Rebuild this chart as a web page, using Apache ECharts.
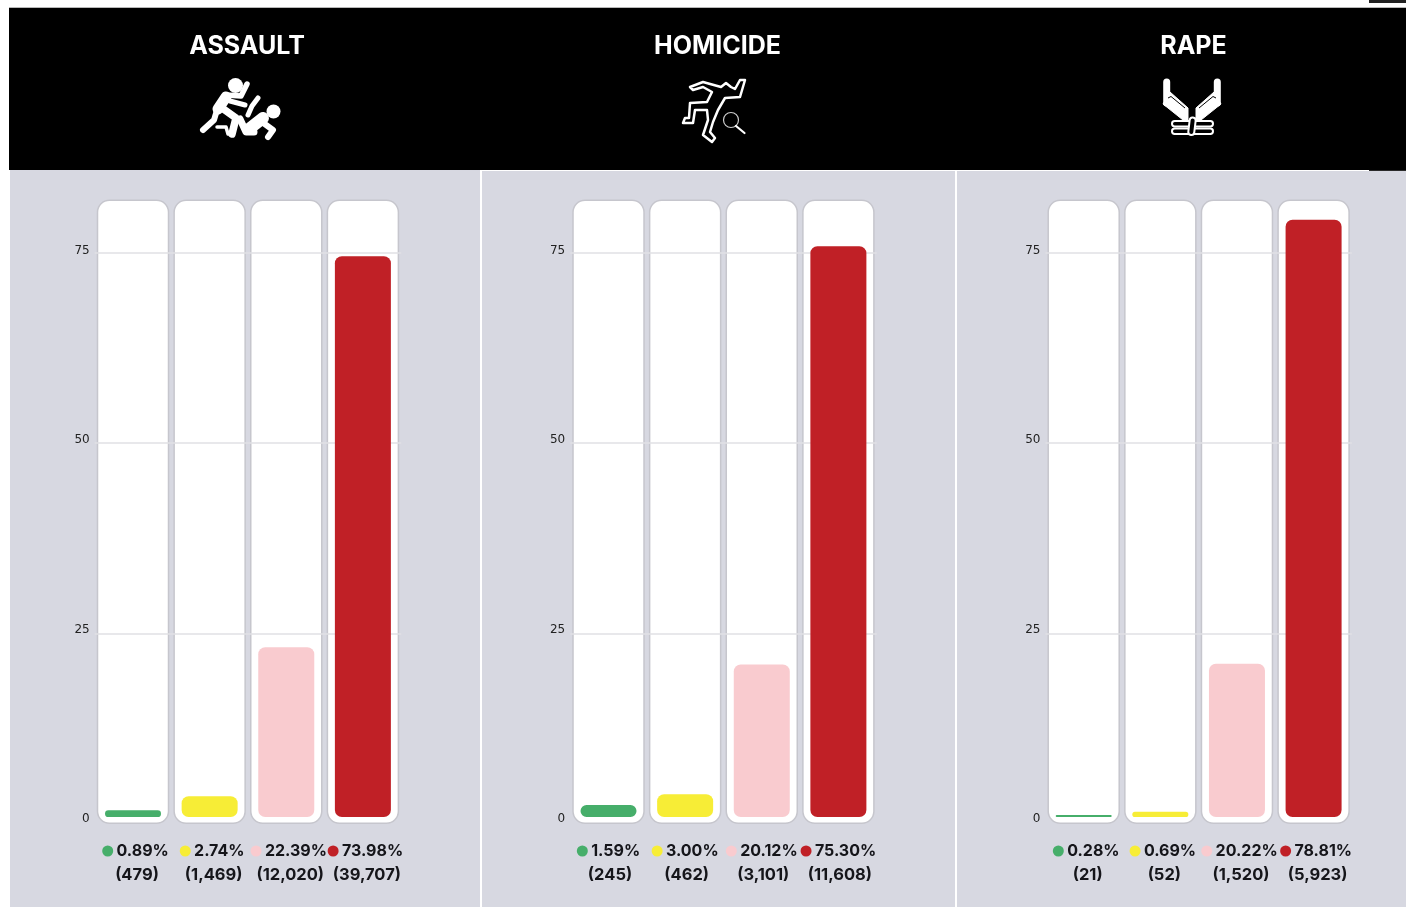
<!DOCTYPE html>
<html>
<head>
<meta charset="utf-8">
<title>Crime shares</title>
<script src="https://cdn.jsdelivr.net/npm/echarts@6/dist/echarts.min.js"></script>
<style>
  html, body { margin: 0; padding: 0; background: #fff; }
  #chart { width: 1406px; height: 907px; }
</style>
</head>
<body>
<div id="chart"></div>
<script>
const crimes = ['ASSAULT', 'HOMICIDE', 'RAPE']
const assaultPct = [0.89, 2.74, 22.39, 73.98]
const homicidePct = [1.59, 3.0, 20.12, 75.3]
const rapePct = [0.28, 0.69, 20.22, 78.81]
const assaultCount = [479, 1469, 12020, 39707]
const homicideCount = [245, 462, 3101, 11608]
const rapeCount = [21, 52, 1520, 5923]
const yTicks = [0, 25, 50, 75]

const pctByCrime = [assaultPct, homicidePct, rapePct]
const countByCrime = [assaultCount, homicideCount, rapeCount]
const colors = ['#46ae6a', '#f7ed36', '#f9cbcf', '#c02026']

const panelBg = '#d7d8e1'
const gridLefts = [94.7, 570.2, 1045.4]
const gridWidth = 306.5
const titleCenters = [242, 712.5, 1188.5]
const labelShift = [5, 0, 5]
const cardTop = 82

const textStyle = { fontFamily: 'Inter', fontWeight: 700, fontSize: 16, color: '#15151a', lineHeight: 24 }
const richStyles = {
  pct: { ...textStyle },
  count: { ...textStyle, fontSize: 16.5, padding: [0, 0, 0, 3] }
}
colors.forEach((c, i) => {
  richStyles['dot' + i] = { width: 11, height: 11, borderRadius: 5.5, backgroundColor: c }
})

const grids = []
const xAxes = []
const yAxes = []
const series = []

crimes.forEach((crime, p) => {
  const pct = pctByCrime[p]
  const count = countByCrime[p]
  const cats = pct.map((v) => v.toFixed(2) + '%')

  // back grid: white cards and the gridlines that sit on them
  const backIdx = grids.length
  grids.push({ left: gridLefts[p], width: gridWidth, top: 199.5, height: 624.5 })
  xAxes.push({
    gridIndex: backIdx,
    type: 'category',
    data: cats,
    axisLine: { show: false },
    axisTick: { show: false },
    axisLabel: { show: false }
  })
  yAxes.push({
    gridIndex: backIdx,
    type: 'value',
    min: 0,
    max: cardTop,
    interval: 25,
    z: 3,
    axisLine: { show: false },
    axisTick: { show: false },
    axisLabel: { show: false },
    splitLine: {
      show: true,
      showMinLine: false,
      showMaxLine: false,
      lineStyle: { color: '#e0e0e4', width: 1.5 }
    }
  })
  series.push({
    type: 'bar',
    xAxisIndex: backIdx,
    yAxisIndex: backIdx,
    barWidth: 72.5,
    z: 1,
    silent: true,
    data: cats.map(() => cardTop),
    itemStyle: {
      color: '#fff',
      borderColor: '#c6c6cd',
      borderWidth: 1.5,
      borderRadius: 12
    }
  })

  // front grid: the bars, tick labels and the percent/count labels
  const frontIdx = grids.length
  grids.push({ left: gridLefts[p], width: gridWidth, top: 200, height: 617 })
  xAxes.push({
    gridIndex: frontIdx,
    type: 'category',
    data: cats,
    axisLine: { show: false },
    axisTick: { show: false },
    axisLabel: {
      interval: 0,
      margin: 22,
      padding: [0, 0, 0, labelShift[p]],
      formatter: (value, i) =>
        `{dot${i}|} {pct|${value}}\n{count|(${count[i].toLocaleString('en-US')})}`,
      rich: richStyles
    }
  })
  yAxes.push({
    gridIndex: frontIdx,
    type: 'value',
    min: yTicks[0],
    max: 81.4,
    interval: yTicks[1] - yTicks[0],
    axisLine: { show: false },
    axisTick: { show: false },
    splitLine: { show: false },
    axisLabel: {
      margin: 5,
      showMaxLabel: false,
      formatter: '{tick|{value}}',
      rich: {
        tick: {
          fontFamily: 'DejaVu Sans',
          fontSize: 12,
          color: '#222',
          padding: [4, 0, 0, 0]
        }
      }
    }
  })
  series.push({
    name: crime,
    type: 'bar',
    xAxisIndex: frontIdx,
    yAxisIndex: frontIdx,
    barWidth: 56,
    z: 5,
    data: pct.map((v, i) => ({ value: v, itemStyle: { color: colors[i] } })),
    itemStyle: { borderRadius: 7 }
  })
})

// header icons
const white = { stroke: '#fff', fill: 'none', lineCap: 'round', lineJoin: 'round' }
const stroke = (points, lineWidth) => ({
  type: 'polyline',
  z: 20,
  shape: { points },
  style: { ...white, lineWidth }
})
const dot = (cx, cy, r) => ({
  type: 'circle',
  z: 20,
  shape: { cx, cy, r },
  style: { fill: '#fff' }
})
const blackLine = (points) => ({
  type: 'polyline',
  z: 21,
  shape: { points },
  style: { stroke: '#000', fill: 'none', lineWidth: 1 }
})

const assaultIcon = [
  dot(235.5, 85.5, 7.5),
  stroke([[226, 97], [218, 109]], 11),
  stroke([[226, 95], [241, 96], [247, 84]], 5.5),
  stroke([[230, 101], [245, 105]], 5),
  stroke([[217, 110], [214, 120], [203, 130]], 6),
  stroke([[222, 108], [236, 118], [232, 134]], 7.5),
  stroke([[217, 127], [226, 127], [228, 134]], 3.5),
  dot(273.5, 111.5, 7),
  stroke([[263, 118], [249, 129]], 12),
  stroke([[248, 115], [252, 106], [258, 98]], 5),
  stroke([[262, 122], [273, 130], [268, 137]], 6),
  stroke([[240, 119], [246, 132], [254, 132]], 7)
]

const homicideIcon = [
  {
    type: 'polygon',
    z: 20,
    shape: {
      points: [
        [690, 87], [703, 82], [721, 87], [726, 83], [731, 87], [735, 89], [740, 80], [745, 80],
        [740, 97], [725, 98], [718, 110], [713, 122], [710, 132], [715, 138], [712, 142],
        [703, 135], [708, 120], [707, 110], [695, 110], [693, 123], [683, 123], [685, 118],
        [689, 118], [690, 103], [707, 102], [712, 92], [703, 87], [693, 90]
      ]
    },
    style: { fill: 'none', stroke: '#fff', lineWidth: 2.5, lineJoin: 'round' }
  },
  {
    type: 'circle',
    z: 20,
    shape: { cx: 731, cy: 120, r: 7.5 },
    style: { fill: 'none', stroke: '#ccc', lineWidth: 1.2 }
  },
  stroke([[736, 126], [744.5, 133]], 2.2)
]

const mirror = (x) => 2 * 1192 - x
const palmPoints = (m) => [
  [m(1163), 104], [m(1170), 92], [m(1188), 108], [m(1188), 120], [m(1183), 120]
]
const thumbLine = (m) => [[m(1168), 98], [m(1171), 96.5], [m(1185), 108]]
const rapeIcon = [
  stroke([[1166.7, 82], [1166.7, 103]], 7),
  stroke([[mirror(1166.7), 82], [mirror(1166.7), 103]], 7),
  { type: 'polygon', z: 20, shape: { points: palmPoints((x) => x) }, style: { fill: '#fff', stroke: '#fff', lineWidth: 1, lineJoin: 'round' } },
  { type: 'polygon', z: 20, shape: { points: palmPoints(mirror) }, style: { fill: '#fff', stroke: '#fff', lineWidth: 1, lineJoin: 'round' } },
  blackLine(thumbLine((x) => x)),
  blackLine(thumbLine(mirror)),
  { type: 'rect', z: 20, shape: { x: 1172, y: 121, width: 41, height: 5.5, r: 2.7 }, style: { fill: '#000', stroke: '#fff', lineWidth: 2 } },
  { type: 'rect', z: 20, shape: { x: 1172, y: 128.5, width: 41, height: 5.5, r: 2.7 }, style: { fill: '#000', stroke: '#fff', lineWidth: 2 } },
  { type: 'rect', z: 22, rotation: -0.12, originX: 1192, originY: 126, shape: { x: 1189, y: 117.5, width: 6, height: 17.5, r: 3 }, style: { fill: '#000', stroke: '#fff', lineWidth: 2 } }
]

const panels = [
  { type: 'rect', z: -10, shape: { x: 10, y: 170, width: 1396, height: 737 }, style: { fill: panelBg } },
  { type: 'rect', z: -9, shape: { x: 480, y: 170, width: 2, height: 737 }, style: { fill: '#fff' } },
  { type: 'rect', z: -9, shape: { x: 955, y: 170, width: 2, height: 737 }, style: { fill: '#fff' } },
  { type: 'rect', z: -9, shape: { x: 9, y: 7, width: 1397, height: 1 }, style: { fill: '#b8b8b8' } },
  { type: 'rect', z: -9, shape: { x: 9, y: 8, width: 1397, height: 162 }, style: { fill: '#000' } },
  { type: 'rect', z: -8, shape: { x: 482, y: 170, width: 887, height: 1 }, style: { fill: '#fff' } },
  { type: 'rect', z: -8, shape: { x: 1369, y: 170, width: 37, height: 1 }, style: { fill: '#2a2a2a' } },
  { type: 'rect', z: -8, shape: { x: 1369, y: 0, width: 37, height: 3 }, style: { fill: '#222' } }
]

const chart = echarts.init(document.getElementById('chart'), null, { renderer: 'canvas' })
chart.setOption({
  animation: false,
  backgroundColor: '#fff',
  title: crimes.map((crime, i) => ({
    text: crime,
    left: titleCenters[i],
    top: 29,
    textAlign: 'center',
    textStyle: { fontFamily: 'Inter', fontWeight: 700, fontSize: 25, color: '#fff' }
  })),
  grid: grids,
  xAxis: xAxes,
  yAxis: yAxes,
  series,
  graphic: { elements: [...panels, ...assaultIcon, ...homicideIcon, ...rapeIcon] }
})
window.addEventListener('resize', () => chart.resize())
</script>
</body>
</html>
